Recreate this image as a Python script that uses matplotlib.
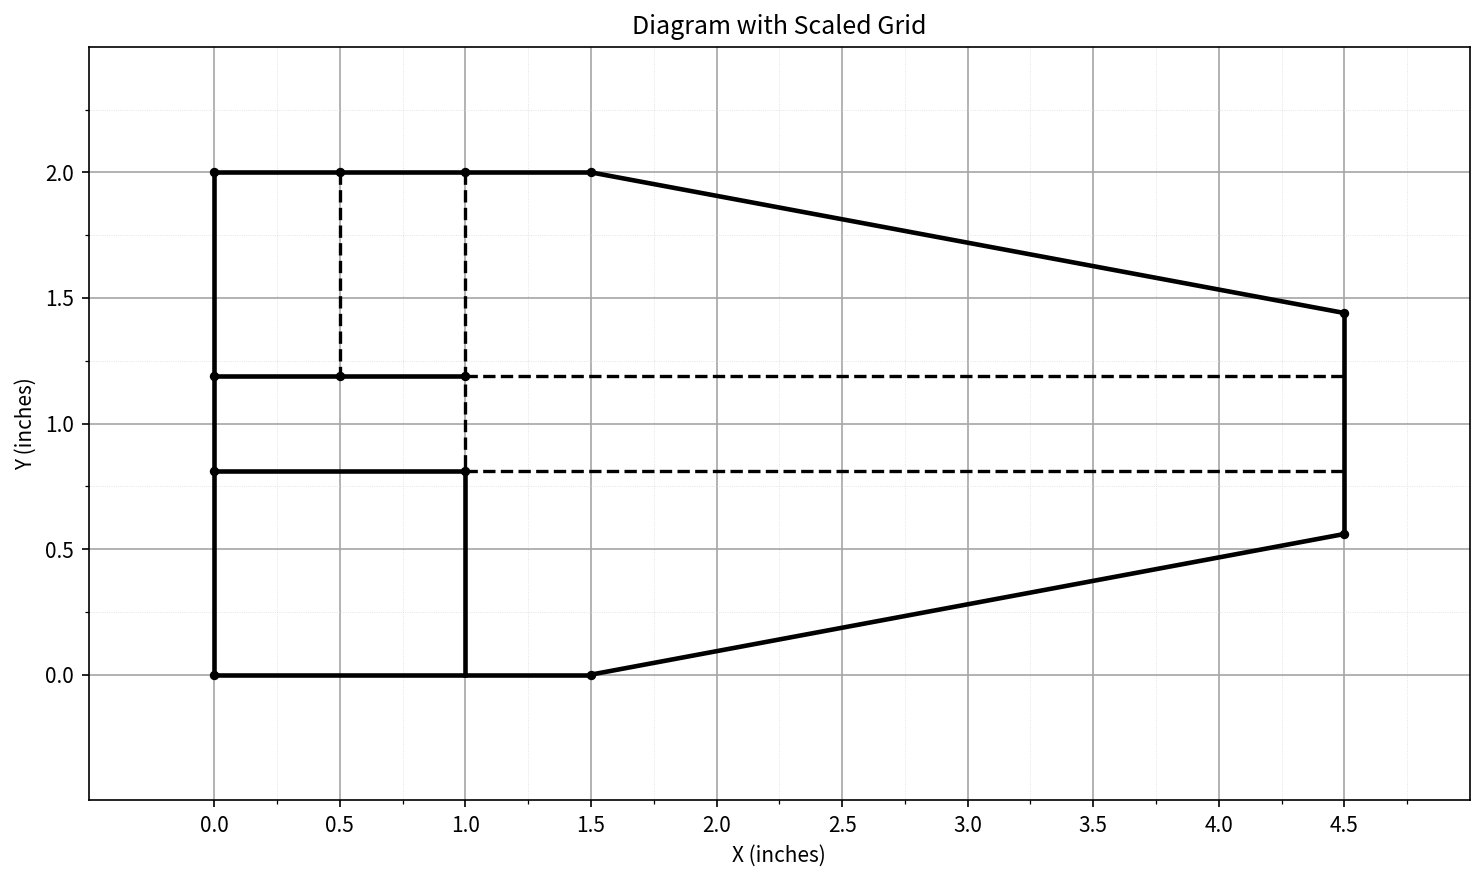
import matplotlib
matplotlib.use("Agg")
import matplotlib.pyplot as plt
import numpy as np

plt.rcParams['font.family'] = ['Noto Sans CJK JP', 'DejaVu Sans']

solid_segments = [
    ([0, 1.5], [2, 2]),
    ([1.5, 4.5], [2, 1.44]),
    ([4.5, 4.5], [1.44, 0.56]),
    ([4.5, 1.5], [0.56, 0]),
    ([1.5, 0], [0, 0]),
    ([0, 0], [0, 2]),
    ([0, 1], [1.19, 1.19]),
    ([0, 1], [0.81, 0.81]),
    ([1, 1], [0.81, 0]),
]
dashed_segments = [
    ([0.5, 0.5], [2, 1.19]),
    ([1, 1], [2, 0.81]),
    ([1, 4.5], [1.19, 1.19]),
    ([1, 4.5], [0.81, 0.81]),
]
points_x = [0, 0.5, 1, 1.5, 4.5, 4.5, 1.5, 0, 0, 0.5, 1, 0, 1]
points_y = [2, 2, 2, 2, 1.44, 0.56, 0, 0, 1.19, 1.19, 1.19, 0.81, 0.81]

fig = plt.figure(figsize=(1484/150, 882/150), dpi=150)
ax = fig.add_axes([88.7/1484, 1-800.2/882, 1381.2/1484, 753.4/882])
for x, y in solid_segments:
    ax.plot(x, y, color='black', lw=2.2, solid_capstyle='projecting', zorder=3)
for x, y in dashed_segments:
    ax.plot(x, y, color='black', lw=1.6, ls='--', zorder=3)
ax.plot(points_x, points_y, 'o', color='black', ms=3.5, zorder=4)

ax.set_xlim(-0.5, 5)
ax.set_ylim(-0.5, 2.5)
ax.set_xticks(np.arange(0, 4.51, 0.5))
ax.set_yticks(np.arange(0, 2.01, 0.5))
ax.set_xticks(np.arange(0.25, 5, 0.5), minor=True)
ax.set_yticks(np.arange(0.25, 2.5, 0.5), minor=True)
ax.grid(True, which='major', color='#a6a6a6', lw=0.8)
ax.grid(True, which='minor', color='#dcdcdc', lw=0.4, ls=':')
ax.set_axisbelow(True)
ax.tick_params(labelsize=10)
ax.set_title('Diagram with Scaled Grid', fontsize=12)
ax.set_xlabel('X (inches)', fontsize=10)
ax.set_ylabel('Y (inches)', fontsize=10)
fig.savefig('out.png', dpi=150)
